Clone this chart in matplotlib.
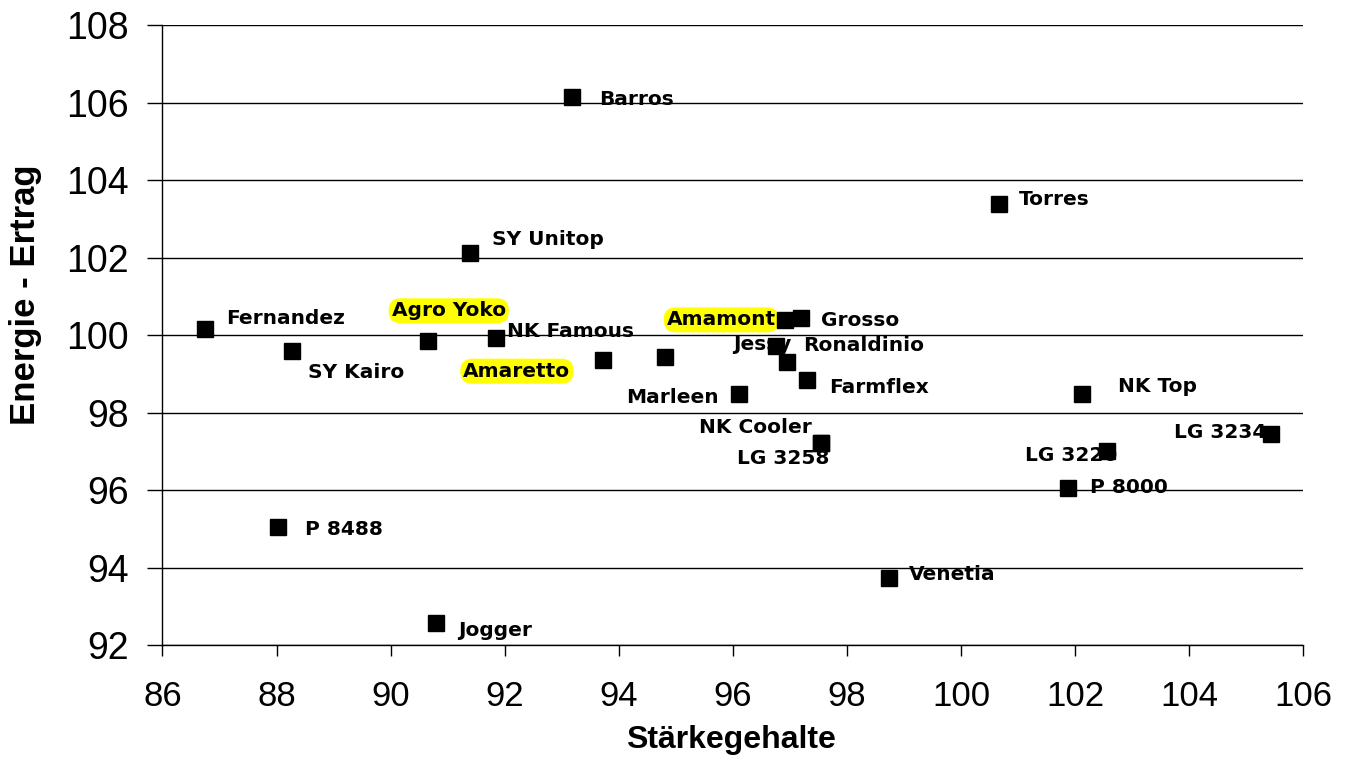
import matplotlib
matplotlib.use("Agg")
import matplotlib.pyplot as plt

# ---- data ----
names = ["Fernandez", "SY Kairo", "P 8488", "Jogger", "Agro Yoko", "SY Unitop",
         "NK Famous", "Amaretto", "Barros", "", "Marleen", "Amamont", "Grosso",
         "Jessy", "Ronaldinio", "Farmflex", "NK Cooler", "LG 3258", "Torres",
         "Venetia", "NK Top", "LG 3220", "P 8000", "LG 3234"]
staerke = [86.74, 88.27, 88.02, 90.79, 90.65, 91.39,
           91.85, 93.72, 93.18, 94.81, 96.11, 96.91, 97.19,
           96.75, 96.94, 97.30, 97.55, 97.55, 100.66,
           98.74, 102.12, 102.56, 101.87, 105.43]
energie = [100.15, 99.59, 95.05, 92.57, 99.85, 102.12,
           99.92, 99.35, 106.14, 99.43, 98.48, 100.39, 100.44,
           99.72, 99.30, 98.84, 97.21, 97.21, 103.38,
           93.73, 98.48, 97.01, 96.05, 97.45]
highlighted = ["Agro Yoko", "Amaretto", "Amamont"]
xticks = [86, 88, 90, 92, 94, 96, 98, 100, 102, 104, 106]
yticks = [92, 94, 96, 98, 100, 102, 104, 106, 108]

# ---- label placement (pixel offsets: dx right, dy down, horizontal alignment) ----
offsets = {
    "Fernandez": (21, -11, "left"), "SY Kairo": (16, 22, "left"),
    "P 8488": (27, 3, "left"), "Jogger": (22, 8, "left"),
    "Agro Yoko": (21, -30, "center"), "SY Unitop": (22, -13, "left"),
    "NK Famous": (11, -7, "left"), "Amaretto": (-86, 11, "center"),
    "Barros": (27, 2, "left"), "Marleen": (-21, 4, "right"),
    "Amamont": (-9, 0, "right"), "Grosso": (20, 3, "left"),
    "Jessy": (-13, -1, "center"), "Ronaldinio": (17, -17, "left"),
    "Farmflex": (22, 8, "left"), "NK Cooler": (-10, -16, "right"),
    "LG 3258": (-38, 15, "center"), "Torres": (20, -5, "left"),
    "Venetia": (20, -3, "left"), "NK Top": (36, -7, "left"),
    "LG 3220": (-82, 5, "left"), "P 8000": (22, -1, "left"),
    "LG 3234": (-97, -1, "left"),
}

plt.rcParams['font.family'] = ['Liberation Sans', 'DejaVu Sans']

fig = plt.figure(figsize=(13.53, 7.60), dpi=100)
ax = fig.add_axes([0.1201, 0.1513, 0.8433, 0.8158])

ax.set_xlim(86, 106)
ax.set_ylim(92, 108)
ax.set_xticks(xticks)
ax.set_yticks(yticks)
ax.set_xticklabels([str(t) for t in xticks])
ax.set_yticklabels([str(t) for t in yticks])

ax.grid(axis='y', color='black', linewidth=1.0)
ax.set_axisbelow(True)
for s in ['top', 'right']:
    ax.spines[s].set_visible(False)
for s in ['left', 'bottom']:
    ax.spines[s].set_color('black')
    ax.spines[s].set_linewidth(1.0)

ax.tick_params(axis='y', direction='out', length=11, width=1, pad=13,
               labelsize=27, colors='black')
ax.tick_params(axis='x', direction='out', length=8, width=1, pad=17,
               labelsize=25, colors='black')

ax.plot(staerke, energie, linestyle='none', marker='s', markersize=11.5,
        color='black', zorder=5)

px = 0.72  # pixels -> points at 100 dpi
for n, x, y in zip(names, staerke, energie):
    if not n:
        continue
    dx, dy, ha = offsets[n]
    kw = {}
    if n in highlighted:
        kw['bbox'] = dict(boxstyle='round,pad=0.15,rounding_size=0.6',
                          facecolor='#FFFF00', edgecolor='none')
    ax.annotate(n, (x, y), xytext=(dx * px, -dy * px), textcoords='offset points',
                ha=ha, va='center', fontsize=14.5, fontweight='bold',
                family=['DejaVu Sans'], color='black', zorder=3, **kw)

ax.set_ylabel("Energie - Ertrag", fontsize=25, fontweight='bold', va='center')
ax.yaxis.set_label_coords(-0.1205, 0.565)
ax.set_xlabel("Stärkegehalte", fontsize=23, fontweight='bold', va='center')
ax.xaxis.set_label_coords(0.498, -0.153)

fig.savefig("out.png", dpi=100)
